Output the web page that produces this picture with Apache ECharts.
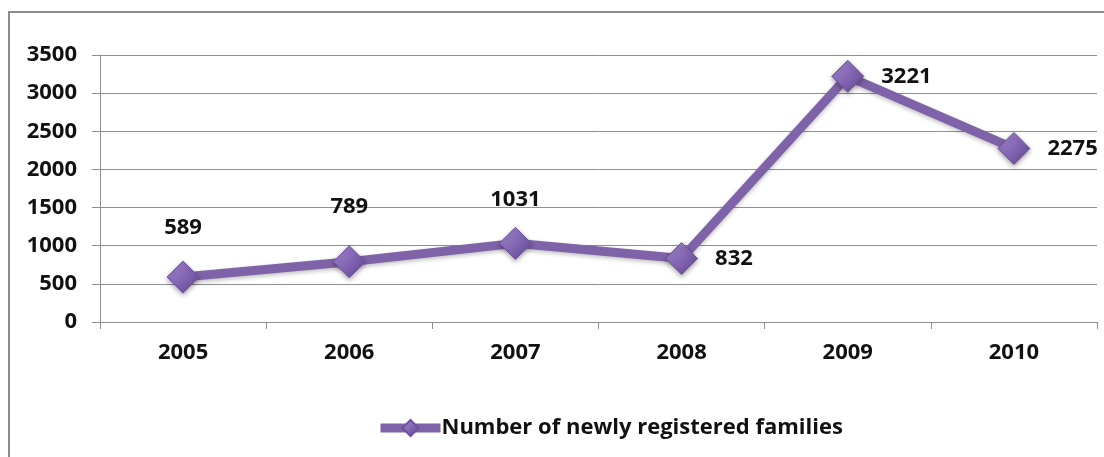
<!DOCTYPE html>
<html>
<head>
<meta charset="utf-8">
<script src="https://cdn.jsdelivr.net/npm/echarts@6/dist/echarts.min.js"></script>
<style>
  html, body { margin: 0; padding: 0; background: #ffffff; }
  #chart { width: 1104px; height: 457px; }
</style>
</head>
<body>
<div id="chart"></div>
<script>
// Newly registered families per year
const years = ['2005', '2006', '2007', '2008', '2009', '2010'];
const families = [589, 789, 1031, 832, 3221, 2275];
const seriesName = 'Number of newly registered families';

const FONT = '"Open Sans", Lato, sans-serif';
const PURPLE = '#7f63a8';

const chart = echarts.init(document.getElementById('chart'), null, { renderer: 'canvas' });

const markerFill = new echarts.graphic.LinearGradient(0, 0, 1, 1, [
  { offset: 0, color: '#a58bd0' },
  { offset: 0.5, color: '#8467b4' },
  { offset: 1, color: '#624590' }
]);

// Early years carry their label above the point, later ones to the right
function labelFor(i) {
  if (i >= 3) return { position: 'right', distance: 17 };
  const gaps = [22, 28, 16];
  return { position: 'top', distance: gaps[i] };
}

const data = families.map((v, i) => ({ value: v, label: labelFor(i) }));

const textStyle = { fontFamily: FONT, fontWeight: 'bold', fontSize: 22, color: '#111' };

chart.setOption({
  backgroundColor: '#ffffff',
  animation: false,
  graphic: [{
    type: 'rect',
    shape: { x: 9, y: 12, width: 1200, height: 600 },
    style: { fill: 'transparent', stroke: '#8c8c8c', lineWidth: 2 },
    silent: true
  }],
  grid: { left: 100, right: 7, top: 55, bottom: 135 },
  legend: {
    left: 371,
    top: 412,
    itemWidth: 60,
    itemHeight: 20,
    itemGap: 2,
    lineStyle: { width: 9 },
    textStyle: Object.assign({}, textStyle, { padding: [0, 0, 0, -4] }),
    data: [seriesName]
  },
  xAxis: {
    type: 'category',
    data: years,
    boundaryGap: true,
    axisLine: { show: true, lineStyle: { color: '#8f8f8f', width: 1 } },
    axisTick: { show: true, length: 7, alignWithLabel: false, lineStyle: { color: '#8f8f8f' } },
    axisLabel: Object.assign({ margin: 20 }, textStyle),
    splitLine: { show: false }
  },
  yAxis: {
    type: 'value',
    min: 0,
    max: 3500,
    interval: 500,
    axisLine: { show: true, lineStyle: { color: '#8f8f8f', width: 1 } },
    axisTick: { show: true, length: 8, lineStyle: { color: '#8f8f8f' } },
    axisLabel: Object.assign({ margin: 23, formatter: v => String(v) }, textStyle),
    splitLine: { show: true, lineStyle: { color: '#8f8f8f', width: 1 } }
  },
  series: [{
    name: seriesName,
    type: 'line',
    data: data,
    symbol: 'diamond',
    symbolSize: 32,
    lineStyle: { color: PURPLE, width: 9, shadowColor: 'rgba(0,0,0,0.25)', shadowBlur: 4, shadowOffsetY: 2 },
    itemStyle: {
      color: markerFill,
      borderColor: '#6d50a0',
      borderWidth: 1,
      shadowColor: 'rgba(0,0,0,0.35)',
      shadowBlur: 5,
      shadowOffsetY: 2
    },
    label: Object.assign({ show: true }, textStyle),
    z: 3
  }]
});
</script>
</body>
</html>
